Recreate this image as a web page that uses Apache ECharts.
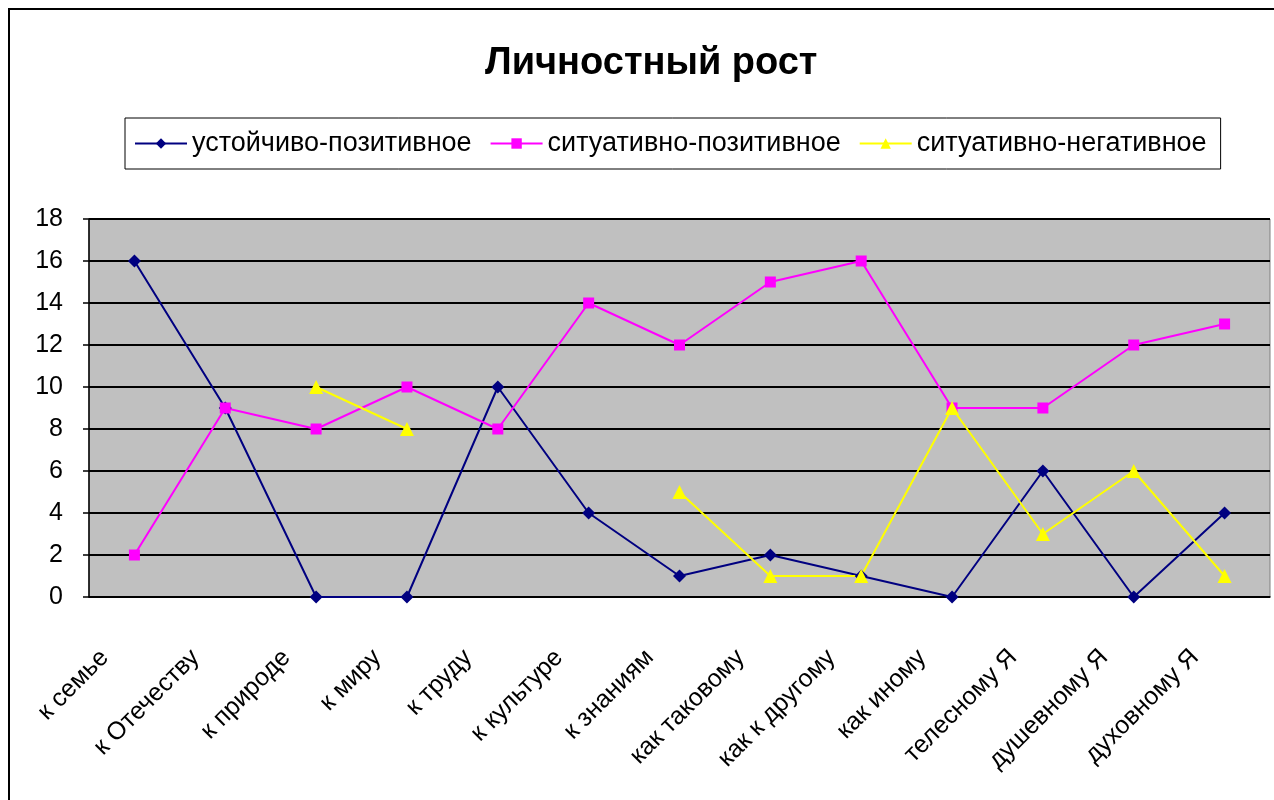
<!DOCTYPE html>
<html>
<head>
<meta charset="utf-8">
<script src="https://cdn.jsdelivr.net/npm/echarts@6/dist/echarts.min.js"></script>
<style>
  html, body { margin: 0; padding: 0; background: #fff; }
  #chart { width: 1274px; height: 800px; }
</style>
</head>
<body>
<div id="chart"></div>
<script>
const categories = ['к семье', 'к Отечеству', 'к природе', 'к миру', 'к труду', 'к культуре', 'к знаниям',
  'как таковому', 'как к другому', 'как иному', 'телесному Я', 'душевному Я', 'духовному Я']
const seriesNames = ['устойчиво-позитивное', 'ситуативно-позитивное', 'ситуативно-негативное']
const stablePositive = [16, 9, 0, 0, 10, 4, 1, 2, 1, 0, 6, 0, 4]
const situationalPositive = [2, 9, 8, 10, 8, 14, 12, 15, 16, 9, 9, 12, 13]
const situationalNegative = [null, null, 10, 8, null, null, 5, 1, 1, 9, 3, 6, 1]
const yTicks = [0, 2, 4, 6, 8, 10, 12, 14, 16, 18]

const font = 'Liberation Sans, Arial, sans-serif'

const chart = echarts.init(document.getElementById('chart'))
chart.setOption({
  animation: false,
  backgroundColor: '#fff',
  graphic: [{
    type: 'rect',
    shape: { x: 9, y: 9, width: 1400, height: 900 },
    style: { fill: 'none', stroke: '#000', lineWidth: 2 },
    z: 100
  }],
  title: {
    text: 'Личностный рост',
    left: 480,
    top: 40,
    textStyle: { fontFamily: font, fontSize: 38, fontWeight: 'bold', color: '#000' }
  },
  legend: {
    top: 118,
    left: 125,
    padding: [12, 14, 12, 9],
    borderColor: '#000',
    borderWidth: 1,
    itemWidth: 52,
    itemHeight: 13,
    itemGap: 18,
    textStyle: { fontFamily: font, fontSize: 27, color: '#000' },
    data: seriesNames
  },
  grid: {
    left: 89,
    right: 4,
    top: 219,
    bottom: 203,
    show: true,
    backgroundColor: '#c0c0c0',
    borderColor: '#808080',
    borderWidth: 1
  },
  xAxis: {
    type: 'category',
    data: categories,
    boundaryGap: true,
    axisLine: { lineStyle: { color: '#000', width: 1.5 } },
    axisTick: { length: 8, lineStyle: { color: '#000', width: 1.5 } },
    axisLabel: {
      rotate: 45,
      interval: 0,
      margin: 27,
      padding: [0, 42, 0, 0],
      fontFamily: font,
      fontSize: 25,
      color: '#000'
    }
  },
  yAxis: {
    type: 'value',
    min: yTicks[0],
    max: yTicks[yTicks.length - 1],
    interval: 2,
    axisLine: { show: true, lineStyle: { color: '#000', width: 1.5 } },
    axisTick: { show: true, length: 6, lineStyle: { color: '#000', width: 1.5 } },
    axisLabel: { margin: 26, fontFamily: font, fontSize: 25, color: '#000' },
    splitLine: { lineStyle: { color: '#000', width: 2 } }
  },
  series: [{
    name: seriesNames[0],
    type: 'line',
    data: stablePositive,
    symbol: 'diamond',
    symbolSize: 13,
    color: '#000080',
    lineStyle: { width: 2 }
  }, {
    name: seriesNames[1],
    type: 'line',
    data: situationalPositive,
    symbol: 'rect',
    symbolSize: 11,
    color: '#ff00ff',
    lineStyle: { width: 2 }
  }, {
    name: seriesNames[2],
    type: 'line',
    data: situationalNegative,
    symbol: 'triangle',
    symbolSize: 14,
    color: '#ffff00',
    lineStyle: { width: 2 }
  }]
})
</script>
</body>
</html>
